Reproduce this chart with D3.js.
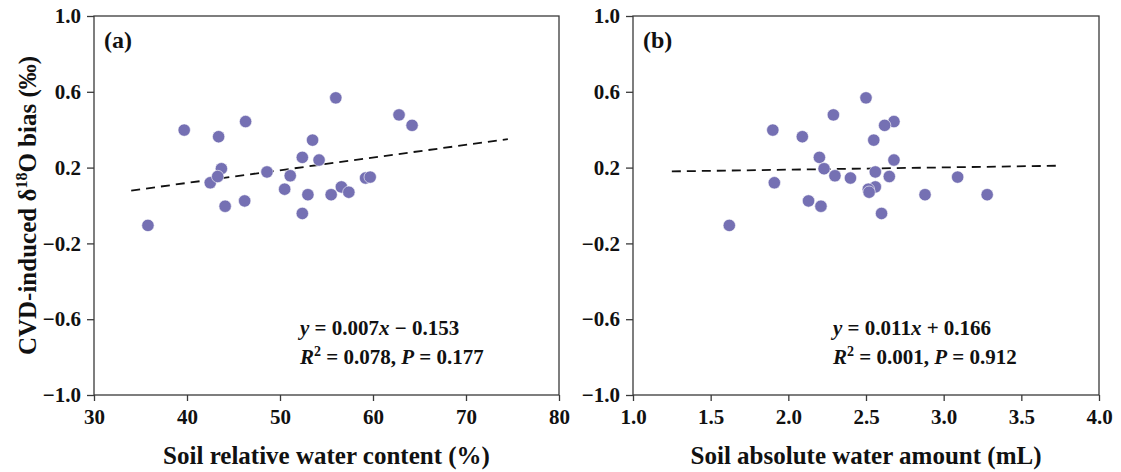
<!DOCTYPE html>
<html>
<head>
<meta charset="utf-8">
<script src="https://cdn.jsdelivr.net/npm/d3@7"></script>
<style>
  body { margin: 0; background: #fff; }
  text { font-family: "Liberation Serif", "Times New Roman", serif; font-weight: bold; fill: #111; }
</style>
</head>
<body>
<div id="plt"></div>
<script>
// CVD-induced d18O bias (permil), one value per sample
const bias = [-0.105, 0.398, 0.363, 0.443, 0.568, 0.478, 0.423, 0.345, 0.254, 0.240,
  0.194, 0.177, 0.120, 0.157, 0.153, 0.145, 0.150, 0.098, 0.086, 0.070,
  0.057, 0.057, 0.024, -0.004, -0.042];
// soil relative water content (%)
const relWater = [35.8, 39.7, 43.4, 46.3, 56.0, 62.8, 64.2, 53.5, 52.4, 54.2,
  43.7, 48.6, 42.5, 51.1, 43.3, 59.2, 59.7, 56.6, 50.5, 57.4,
  53.0, 55.5, 46.2, 44.1, 52.4];
// soil absolute water amount (mL)
const absWater = [1.62, 1.90, 2.09, 2.68, 2.50, 2.29, 2.62, 2.55, 2.20, 2.68,
  2.23, 2.56, 1.91, 2.30, 2.65, 2.40, 3.09, 2.56, 2.515, 2.52,
  2.88, 3.28, 2.13, 2.21, 2.60];

const yTicks = [-1.0, -0.6, -0.2, 0.2, 0.6, 1.0];
const xTicksA = [30, 40, 50, 60, 70, 80];
const xTicksB = [1.0, 1.5, 2.0, 2.5, 3.0, 3.5, 4.0];

// fitted lines as drawn: [slope, intercept, xStart, xEnd]
const fitA = [0.0067, -0.149, 34, 74.5];
const fitB = [0.012, 0.165, 1.25, 3.76];

const W = 1121, H = 472;
const plotTop = 16, plotBottom = 395;

const svg = d3.select("#plt").append("svg")
  .attr("width", W).attr("height", H);

const y = d3.scaleLinear().domain([-1, 1]).range([plotBottom, plotTop]);

function panel(opts) {
  const x = d3.scaleLinear().domain(opts.domain).range([opts.left, opts.right]);
  const g = svg.append("g");

  // frame
  g.append("rect")
    .attr("x", opts.left).attr("y", plotTop)
    .attr("width", opts.right - opts.left).attr("height", plotBottom - plotTop)
    .attr("fill", "none").attr("stroke", "#3a3a3a").attr("stroke-width", 1.3);

  const xAxis = g.append("g")
    .attr("transform", `translate(0,${plotBottom})`)
    .call(d3.axisBottom(x).tickValues(opts.xTicks).tickSize(6).tickPadding(6)
      .tickFormat(opts.xFmt));
  const yAxis = g.append("g")
    .attr("transform", `translate(${opts.left},0)`)
    .call(d3.axisLeft(y).tickValues(yTicks).tickSize(7).tickPadding(6)
      .tickFormat(d3.format(".1f")));
  [xAxis, yAxis].forEach(a => {
    a.select(".domain").remove();
    a.selectAll("line").attr("stroke", "#3a3a3a").attr("stroke-width", 1.3);
    a.selectAll("text").style("font-size", "21px").attr("fill", "#111");
  });
  xAxis.selectAll("text").attr("y", 29).attr("dy", null);

  // dashed fit line
  const f = opts.fit;
  g.append("line")
    .attr("x1", x(f[2])).attr("y1", y(f[0] * f[2] + f[1]))
    .attr("x2", x(f[3])).attr("y2", y(f[0] * f[3] + f[1]))
    .attr("stroke", "#111").attr("stroke-width", 1.8)
    .attr("stroke-dasharray", "9,6");

  // points
  g.append("g").selectAll("circle")
    .data(opts.xs.map((v, i) => [v, bias[i]]))
    .enter().append("circle")
    .attr("cx", d => x(d[0])).attr("cy", d => y(d[1]))
    .attr("r", 6.2)
    .attr("fill", "#7570b3")
    .attr("stroke", "#fff").attr("stroke-width", 0.6);

  // panel label
  g.append("text")
    .attr("x", opts.left + 10).attr("y", 48)
    .style("font-size", "24px").text(opts.tag);

  // x title
  g.append("text")
    .attr("x", (opts.left + opts.right) / 2).attr("y", 464)
    .attr("text-anchor", "middle")
    .style("font-size", "25px").text(opts.xTitle);

  // equation
  const eq = g.append("text").attr("x", opts.eqX).attr("y", 335).style("font-size", "21px");
  eq.append("tspan").style("font-style", "italic").text("y");
  eq.append("tspan").text(" = " + opts.eq[0]);
  eq.append("tspan").style("font-style", "italic").text("x");
  eq.append("tspan").text(" " + opts.eq[1]);

  const st = g.append("text").attr("x", opts.eqX).attr("y", 364).style("font-size", "21px");
  st.append("tspan").style("font-style", "italic").text("R");
  st.append("tspan").attr("dy", -8).style("font-size", "14px").text("2");
  st.append("tspan").attr("dy", 8).text(" = " + opts.stats[0] + ", ");
  st.append("tspan").style("font-style", "italic").text("P");
  st.append("tspan").text(" = " + opts.stats[1]);
}

panel({
  left: 94, right: 559, domain: [30, 80], xTicks: xTicksA, xFmt: d3.format("d"),
  xs: relWater, fit: fitA, tag: "(a)",
  xTitle: "Soil relative water content (%)",
  eqX: 300, eq: ["0.007", "\u2212 0.153"], stats: ["0.078", "0.177"]
});

panel({
  left: 633, right: 1099, domain: [1, 4], xTicks: xTicksB, xFmt: d3.format(".1f"),
  xs: absWater, fit: fitB, tag: "(b)",
  xTitle: "Soil absolute water amount (mL)",
  eqX: 833, eq: ["0.011", "+ 0.166"], stats: ["0.001", "0.912"]
});

// y title
const yt = svg.append("text")
  .attr("transform", `translate(36,${(plotTop + plotBottom) / 2}) rotate(-90)`)
  .attr("text-anchor", "middle")
  .style("font-size", "25px");
yt.append("tspan").text("CVD-induced \u03b4");
yt.append("tspan").attr("dy", -9).style("font-size", "16px").text("18");
yt.append("tspan").attr("dy", 9).text("O bias (\u2030)");
</script>
</body>
</html>
